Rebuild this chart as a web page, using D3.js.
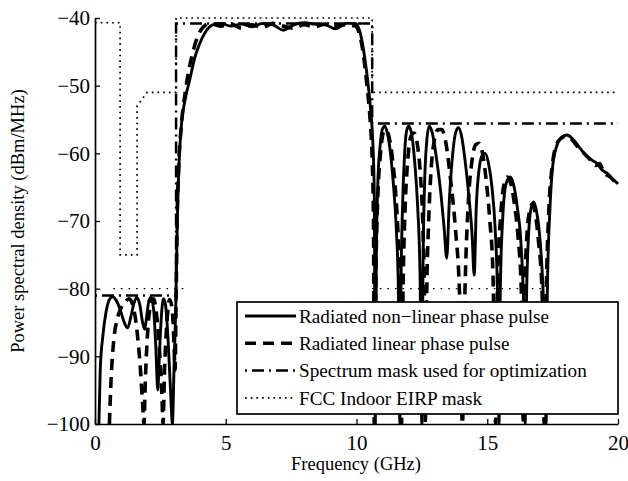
<!DOCTYPE html>
<html><head><meta charset="utf-8">
<script src="https://cdn.jsdelivr.net/npm/d3@7"></script>
<style>
html,body{margin:0;padding:0;background:#fff;}
text{font-family:"Liberation Serif","Times New Roman",serif;fill:#000;}
</style></head>
<body><svg id="chart" width="628" height="481"></svg>
<script>
// ---------- data (frequency GHz, PSD dBm/MHz) ----------
const xTicks = [0, 5, 10, 15, 20];
const yTicks = [-100, -90, -80, -70, -60, -50, -40];
const legendLabels = ["Radiated non\u2212linear phase pulse", "Radiated linear phase pulse",
  "Spectrum mask used for optimization", "FCC Indoor EIRP mask"];

const nonLinearPulse = [
 [0.15,-100],[0.2,-92],[0.3,-87],[0.42,-83.5],[0.55,-81.6],[0.68,-81.2],[0.82,-81.8],[0.98,-83.3],[1.12,-85],[1.25,-85.8],
 [1.38,-84],[1.5,-82],[1.6,-81.3],[1.72,-82.5],[1.82,-85],[1.9,-86],[1.98,-84],[2.06,-81.8],[2.14,-81.3],[2.24,-83],
 [2.33,-89],[2.4,-95],[2.46,-90],[2.54,-84],[2.62,-81.5],[2.7,-82.5],[2.8,-88],[2.9,-96],[2.96,-100],[3.02,-92],
 [3.08,-84],[3.12,-76],[3.16,-68],[3.22,-61],[3.3,-56],[3.45,-52],[3.63,-49],[3.82,-45.8],[4.0,-43.8],[4.2,-42.2],
 [4.5,-41],[4.8,-40.8],[5.2,-41.2],[5.6,-40.9],[6.0,-41.3],[6.4,-40.8],[6.8,-41.0],[7.2,-41.8],[7.6,-41.0],[8.0,-40.7],
 [8.4,-40.9],[8.8,-41.0],[9.2,-41.6],[9.6,-40.8],[9.95,-40.8],[10.05,-41.2],[10.15,-42.3],[10.3,-45.5],[10.45,-50],[10.55,-54],
 [10.62,-58],[10.68,-66],[10.72,-100],
 [10.76,-75],[10.82,-64],[10.9,-59],[11.0,-56.3],[11.08,-56],[11.18,-57],[11.3,-60],[11.42,-65],[11.52,-71],[11.6,-80],[11.66,-100],
 [11.7,-80],[11.76,-68],[11.84,-60],[11.92,-56.6],[12.0,-56],[12.1,-57],[12.22,-61],[12.34,-68],[12.43,-78],[12.5,-100],
 [12.54,-78],[12.6,-65],[12.68,-58.5],[12.78,-56],[12.9,-57],[13.05,-60.5],[13.2,-65],[13.35,-71],[13.45,-75.5],
 [13.55,-67],[13.68,-60],[13.8,-56.8],[13.9,-56.2],[14.02,-57.5],[14.15,-61],[14.3,-66.5],[14.42,-72],[14.5,-78],
 [14.58,-68],[14.7,-62],[14.82,-60.2],[14.92,-60],[15.05,-61.5],[15.18,-65],[15.3,-71],[15.4,-82],[15.45,-100],
 [15.5,-80],[15.6,-69],[15.72,-64.5],[15.87,-63.5],[16.0,-64.5],[16.15,-68],[16.3,-74],[16.4,-84],[16.45,-100],
 [16.5,-82],[16.58,-72],[16.68,-68],[16.77,-67.2],[16.88,-68.5],[17.0,-72],[17.12,-79],[17.2,-88],[17.25,-100],
 [17.3,-80],[17.4,-68],[17.5,-62],[17.65,-59],[17.85,-57.6],[18.05,-57.3],[18.25,-57.8],[18.5,-59],[18.75,-60.2],
 [19.0,-61],[19.2,-61.5],[19.4,-62.5],[19.6,-63],[19.8,-63.8],[20.0,-64.5]
];

const linearPulse = [
 [0.55,-100],[0.62,-93],[0.72,-87.5],[0.85,-84.5],[0.98,-83],[1.12,-82.2],[1.3,-81.5],[1.45,-82.5],[1.6,-86],[1.72,-91],
 [1.82,-97],[1.87,-100],[1.93,-93],[2.02,-86],[2.12,-82.5],[2.24,-81.5],[2.36,-84],[2.48,-90],[2.56,-96],[2.6,-100],
 [2.66,-92],[2.75,-85],[2.85,-81.6],[2.95,-83],[3.02,-88],[3.06,-92],[3.1,-82],[3.14,-70],[3.2,-62],[3.3,-56],
 [3.45,-51],[3.6,-47.5],[3.78,-44.5],[3.95,-42.5],[4.15,-41.3],[4.4,-40.8],[4.8,-41.2],[5.2,-40.9],[5.6,-41.5],[6.0,-41.0],
 [6.4,-41.4],[6.8,-40.8],[7.2,-41.2],[7.6,-41.5],[8.0,-41.0],[8.4,-41.3],[8.8,-40.9],[9.2,-41.2],[9.6,-41.0],[9.95,-41.2],
 [10.1,-42.2],[10.25,-45],[10.4,-50],[10.52,-55],[10.6,-61],[10.65,-70],[10.68,-100],
 [10.74,-78],[10.82,-66],[10.92,-60],[11.02,-57],[11.12,-56.5],[11.24,-57.5],[11.38,-61],[11.5,-66],[11.6,-73],[11.67,-82],[11.72,-100],
 [11.78,-80],[11.86,-68],[11.96,-61],[12.08,-57.5],[12.2,-57],[12.32,-58.5],[12.44,-63],[12.54,-71],[12.6,-82],[12.63,-100],
 [12.68,-82],[12.76,-70],[12.86,-62],[12.98,-58],[13.12,-56.5],[13.26,-56.5],[13.42,-58.5],[13.6,-64],[13.78,-71],[13.95,-82],[14.05,-100],
 [14.15,-80],[14.28,-67],[14.42,-61],[14.56,-58.7],[14.68,-58.5],[14.82,-60],[14.96,-64],[15.1,-70],[15.22,-78],[15.32,-100],
 [15.4,-78],[15.5,-70],[15.62,-65],[15.76,-63.5],[15.9,-64.5],[16.04,-67.5],[16.18,-72.5],[16.3,-80],[16.38,-100],
 [16.44,-80],[16.52,-72],[16.62,-68.5],[16.72,-67.5],[16.84,-69],[16.96,-73],[17.1,-81],[17.18,-100],
 [17.26,-80],[17.36,-68],[17.48,-62],[17.62,-59],[17.82,-57.8],[18.0,-57.5],[18.2,-57.8],[18.45,-59],[18.7,-60],
 [18.95,-61],[19.15,-61.8],[19.3,-61.5],[19.45,-62.8],[19.7,-63.5],[20.0,-64.8]
];

const optimizationMask = [[0,-81],[3.1,-81],[3.1,-40.8],[10.6,-40.8],[10.6,-55.6],[20,-55.6]];
const fccIndoorMask = [[0,-40.7],[0.96,-40.7],[0.96,-75],[1.61,-75],[1.61,-53],[1.99,-51],[3.1,-51],[3.1,-40],
  [10.6,-40],[10.6,-51],[20,-51]];
const dottedGuides = [ [[0.7,-80],[3.4,-80]], [[10.6,-80],[17.4,-80]] ];

// ---------- layout ----------
const svg = d3.select("#chart");
const x = d3.scaleLinear().domain([0, 20]).range([95, 618]);
const y = d3.scaleLinear().domain([-100, -40]).range([424, 18]);

svg.append("defs").append("clipPath").attr("id","plotclip")
  .append("rect").attr("x",95).attr("y",17).attr("width",524).attr("height",408);

const line = d3.line().x(d => x(d[0])).y(d => y(d[1]));
const smooth = d3.line().x(d => x(d[0])).y(d => y(d[1])).curve(d3.curveMonotoneX);

const styles = {
  solid: {w: 2.9, dash: null},
  dashed: {w: 3.6, dash: "11,7"},
  dashdot: {w: 2.5, dash: "2,5,12,5"},
  dotted: {w: 1.7, dash: "1.7,4"}
};

const g = svg.append("g").attr("clip-path","url(#plotclip)");

dottedGuides.forEach(seg => g.append("path").attr("d", line(seg)).attr("fill","none")
  .attr("stroke","#000").attr("stroke-width",1.4).attr("stroke-dasharray","1.6,6"));
g.append("path").attr("d", line(fccIndoorMask)).attr("fill","none").attr("stroke","#000")
  .attr("stroke-width",styles.dotted.w).attr("stroke-dasharray",styles.dotted.dash);
g.append("path").attr("d", line(optimizationMask)).attr("fill","none").attr("stroke","#000")
  .attr("stroke-width",styles.dashdot.w).attr("stroke-dasharray",styles.dashdot.dash);
g.append("path").attr("d", smooth(linearPulse)).attr("fill","none").attr("stroke","#000")
  .attr("stroke-width",styles.dashed.w).attr("stroke-dasharray",styles.dashed.dash);
g.append("path").attr("d", smooth(nonLinearPulse)).attr("fill","none").attr("stroke","#000")
  .attr("stroke-width",styles.solid.w).attr("stroke-linejoin","round");

// ---------- axes ----------
const fmt = d => (d < 0 ? "\u2212" + Math.abs(d) : String(d));
const yAxis = svg.append("g").attr("transform","translate(95,0)")
  .call(d3.axisLeft(y).tickValues(yTicks).tickSizeInner(-5).tickSizeOuter(0).tickPadding(5).tickFormat(fmt));
const xAxis = svg.append("g").attr("transform","translate(0,424)")
  .call(d3.axisBottom(x).tickValues(xTicks).tickSizeInner(-5).tickSizeOuter(0).tickPadding(11).tickFormat(fmt));
[yAxis, xAxis].forEach(a => {
  a.select(".domain").attr("stroke","#000").attr("stroke-width",1.7);
  a.selectAll(".tick line").attr("stroke","#000").attr("stroke-width",1.3);
  a.selectAll(".tick text").attr("font-family","Liberation Serif, serif").attr("font-size",21).attr("fill","#000");
});

svg.append("text").attr("x",356).attr("y",470).attr("text-anchor","middle")
  .attr("font-size",18.5).text("Frequency (GHz)");
svg.append("text").attr("transform","translate(24,221) rotate(-90)").attr("text-anchor","middle")
  .attr("font-size",18.5).text("Power spectral density (dBm/MHz)");

// ---------- legend ----------
const leg = svg.append("g");
leg.append("rect").attr("x",237).attr("y",302).attr("width",381).attr("height",112)
  .attr("fill","#fff").attr("stroke","#000").attr("stroke-width",1.7);
const legStyles = [styles.solid, styles.dashed, styles.dashdot, styles.dotted];
legendLabels.forEach((lab, i) => {
  const yy = 316 + i * 27.3;
  const s = legStyles[i];
  leg.append("path").attr("d", d3.line()([[245, yy],[296, yy]])).attr("stroke","#000")
    .attr("stroke-width", s.w).attr("stroke-dasharray", s.dash);
  leg.append("text").attr("x",299).attr("y",yy).attr("dy","0.35em").attr("font-size",19.2).text(lab);
});
</script></body></html>
